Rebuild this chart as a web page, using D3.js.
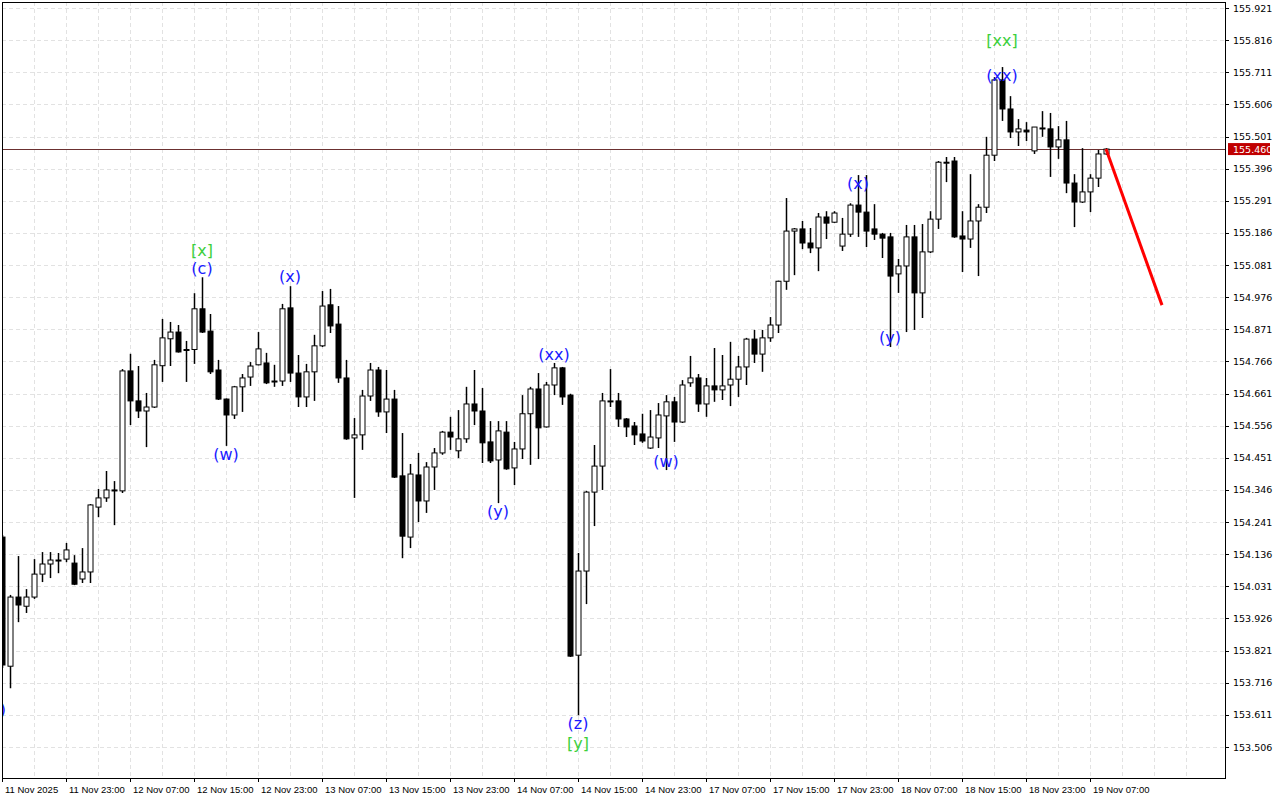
<!DOCTYPE html>
<html><head><meta charset="utf-8">
<script src="https://cdn.jsdelivr.net/npm/d3@7"></script>
<style>body{margin:0;background:#fff}svg{display:block}</style>
</head><body>
<svg id="c" width="1280" height="800"></svg>
<script>
// OHLC per hourly candle [open, high, low, close]
const candles = [
[154.192,154.199,153.764,153.774],[153.770,154.003,153.698,153.996],[153.996,154.130,153.914,153.970],[153.966,154.022,153.944,153.996],
[153.996,154.120,153.990,154.071],[154.071,154.143,154.045,154.104],[154.104,154.143,154.058,154.117],[154.116,154.140,154.074,154.117],
[154.120,154.173,154.110,154.150],[154.107,154.133,154.035,154.038],[154.055,154.156,154.042,154.078],[154.078,154.300,154.042,154.297],
[154.290,154.349,154.257,154.320],[154.320,154.408,154.307,154.346],[154.346,154.375,154.231,154.343],[154.343,154.741,154.336,154.735],
[154.735,154.791,154.558,154.637],[154.637,154.751,154.581,154.604],[154.604,154.663,154.486,154.617],[154.617,154.771,154.614,154.755],
[154.752,154.905,154.699,154.843],[154.840,154.895,154.751,154.862],[154.862,154.885,154.795,154.797],[154.803,154.833,154.699,154.805],
[154.805,154.989,154.758,154.938],[154.938,155.041,154.859,154.862],[154.865,154.921,154.725,154.732],[154.738,154.771,154.640,154.643],
[154.643,154.645,154.490,154.591],[154.591,154.686,154.578,154.683],[154.683,154.725,154.601,154.712],[154.715,154.764,154.686,154.751],
[154.755,154.862,154.753,154.807],[154.761,154.794,154.692,154.696],[154.700,154.755,154.683,154.702],[154.702,154.954,154.686,154.938],
[154.941,155.012,154.699,154.728],[154.728,154.787,154.617,154.650],[154.650,154.758,154.617,154.732],[154.732,154.853,154.637,154.817],
[154.817,154.996,154.813,154.947],[154.951,155.003,154.859,154.882],[154.888,154.947,154.696,154.712],[154.712,154.771,154.510,154.513],
[154.516,154.581,154.320,154.526],[154.526,154.673,154.477,154.653],[154.653,154.761,154.637,154.738],[154.738,154.748,154.585,154.601],
[154.601,154.738,154.532,154.643],[154.643,154.673,154.385,154.388],[154.392,154.532,154.123,154.195],[154.192,154.431,154.156,154.398],
[154.395,154.467,154.241,154.310],[154.310,154.437,154.271,154.421],[154.421,154.483,154.346,154.467],[154.467,154.539,154.461,154.535],
[154.535,154.585,154.477,154.519],[154.474,154.607,154.450,154.513],[154.513,154.683,154.500,154.627],[154.627,154.738,154.558,154.604],
[154.604,154.679,154.434,154.500],[154.503,154.571,154.434,154.441],[154.444,154.571,154.303,154.539],[154.535,154.571,154.412,154.415],
[154.418,154.503,154.362,154.480],[154.480,154.656,154.447,154.595],[154.595,154.683,154.428,154.676],[154.676,154.728,154.447,154.549],
[154.552,154.699,154.550,154.689],[154.689,154.761,154.656,154.745],[154.745,154.748,154.624,154.650],[154.656,154.660,153.800,153.803],
[153.806,154.140,153.610,154.081],[154.081,154.343,153.973,154.339],[154.339,154.493,154.228,154.424],[154.424,154.663,154.346,154.637],
[154.635,154.741,154.617,154.637],[154.637,154.663,154.552,154.578],[154.578,154.581,154.519,154.552],[154.555,154.568,154.493,154.526],
[154.529,154.595,154.500,154.506],[154.483,154.607,154.480,154.519],[154.516,154.630,154.483,154.591],[154.588,154.656,154.411,154.634],
[154.634,154.650,154.503,154.568],[154.568,154.705,154.565,154.689],[154.696,154.784,154.683,154.712],[154.712,154.725,154.601,154.627],
[154.627,154.712,154.585,154.686],[154.686,154.810,154.634,154.673],[154.673,154.787,154.640,154.686],[154.689,154.830,154.620,154.708],
[154.708,154.784,154.650,154.748],[154.748,154.843,154.689,154.839],[154.839,154.869,154.761,154.790],[154.790,154.869,154.732,154.843],
[154.843,154.911,154.830,154.885],[154.885,155.030,154.859,155.028],[155.028,155.300,155.000,155.192],[155.192,155.202,155.048,155.199],
[155.199,155.225,155.133,155.153],[155.153,155.202,155.120,155.137],[155.137,155.251,155.061,155.238],[155.238,155.257,155.166,155.218],
[155.221,155.257,155.218,155.251],[155.143,155.235,155.127,155.182],[155.182,155.283,155.173,155.277],[155.277,155.375,155.173,155.254],
[155.254,155.375,155.140,155.192],[155.199,155.280,155.163,155.182],[155.182,155.186,155.104,155.169],[155.173,155.186,154.813,155.045],
[155.052,155.101,154.990,155.078],[155.078,155.212,154.862,155.173],[155.173,155.212,154.869,154.990],[154.990,155.215,154.908,155.124],
[155.124,155.257,155.120,155.231],[155.231,155.421,155.199,155.417],[155.415,155.434,155.352,155.417],[155.421,155.434,155.170,155.173],
[155.176,155.257,155.058,155.166],[155.166,155.378,155.137,155.225],[155.225,155.280,155.045,155.270],[155.270,155.500,155.251,155.440],
[155.440,155.695,155.421,155.686],[155.686,155.728,155.552,155.591],[155.591,155.633,155.496,155.516],[155.516,155.558,155.470,155.526],
[155.522,155.548,155.486,155.516],[155.454,155.532,155.444,155.532],[155.528,155.584,155.500,155.529],[155.526,155.578,155.369,155.467],
[155.467,155.535,155.428,155.490],[155.490,155.552,155.316,155.349],[155.349,155.378,155.205,155.287],[155.287,155.463,155.284,155.320],
[155.320,155.378,155.254,155.365],[155.365,155.457,155.336,155.444],[155.444,155.463,155.441,155.460]
];
const priceTicks = [155.921,155.816,155.711,155.606,155.501,155.396,155.291,155.186,155.081,154.976,154.871,154.766,154.661,154.556,154.451,154.346,154.241,154.136,154.031,153.926,153.821,153.716,153.611,153.506];
const timeLabels = ["11 Nov 2025","11 Nov 23:00","12 Nov 07:00","12 Nov 15:00","12 Nov 23:00","13 Nov 07:00","13 Nov 15:00","13 Nov 23:00","14 Nov 07:00","14 Nov 15:00","14 Nov 23:00","17 Nov 07:00","17 Nov 15:00","17 Nov 23:00","18 Nov 07:00","18 Nov 15:00","18 Nov 23:00","19 Nov 07:00"];
const lastPrice = 155.460;
const forecast = [[138,155.460],[145,154.950]];
const waveLabels = [
 {t:")",i:0.1,p:153.630,c:"blue"},
 {t:"[x]",i:25,p:155.130,c:"green"},{t:"(c)",i:25,p:155.071,c:"blue"},
 {t:"(w)",i:28,p:154.463,c:"blue"},{t:"(x)",i:36,p:155.042,c:"blue"},
 {t:"(xx)",i:69,p:154.790,c:"blue"},{t:"(y)",i:62,p:154.277,c:"blue"},
 {t:"(z)",i:72,p:153.584,c:"blue"},{t:"[y]",i:72,p:153.519,c:"green"},
 {t:"(w)",i:83,p:154.440,c:"blue"},{t:"(x)",i:107,p:155.346,c:"blue"},
 {t:"(y)",i:111,p:154.843,c:"blue"},
 {t:"[xx]",i:125,p:155.816,c:"green"},{t:"(xx)",i:125,p:155.699,c:"blue"}
];

const L=2,T=2,R=1225,B=778;
const svg=d3.select("#c");
const x=d3.scaleLinear().domain([0,152]).range([2,1218]);
const y=d3.scaleLinear().domain([153.506,155.921]).range([747,8]);
const font="DejaVu Sans, Tahoma, sans-serif";
const afont="Liberation Sans, Arial, sans-serif";

svg.append("defs").append("clipPath").attr("id","clip").append("rect").attr("x",L).attr("y",T).attr("width",R-L).attr("height",B-T);
const g=svg.append("g").attr("clip-path","url(#clip)");
const vgrid=d3.range(0,152,4);
g.selectAll(".vg").data(vgrid).join("line").attr("x1",d=>Math.round(x(d))+0.5).attr("x2",d=>Math.round(x(d))+0.5).attr("y1",T).attr("y2",B)
 .attr("stroke","#e2e2e2").attr("stroke-dasharray","4,3");
g.selectAll(".hg").data(priceTicks).join("line").attr("x1",L).attr("x2",R).attr("y1",d=>Math.round(y(d))+0.5).attr("y2",d=>Math.round(y(d))+0.5)
 .attr("stroke","#e2e2e2").attr("stroke-dasharray","4,3");
g.append("line").attr("x1",L).attr("x2",R).attr("y1",Math.round(y(lastPrice))+0.5).attr("y2",Math.round(y(lastPrice))+0.5).attr("stroke","#6b3030").attr("stroke-width",1);
const cg=g.selectAll(".cd").data(candles).join("g");
cg.append("line").attr("x1",(d,i)=>Math.round(x(i))+0.5).attr("x2",(d,i)=>Math.round(x(i))+0.5)
 .attr("y1",d=>y(d[1])).attr("y2",d=>y(d[2])).attr("stroke","#000").attr("stroke-width",1.5);
cg.append("rect").attr("x",(d,i)=>Math.round(x(i))-2).attr("width",5)
 .attr("y",d=>y(Math.max(d[0],d[3]))).attr("height",d=>Math.max(1,Math.abs(y(d[0])-y(d[3]))))
 .attr("fill",d=>d[3]>=d[0]?"#fff":"#000").attr("stroke","#000").attr("stroke-width",1);
g.append("line").attr("x1",x(forecast[0][0])).attr("y1",y(forecast[0][1])).attr("x2",x(forecast[1][0])).attr("y2",y(forecast[1][1]))
 .attr("stroke","#ff0000").attr("stroke-width",3);
g.selectAll(".wl").data(waveLabels).join("text").attr("x",d=>x(d.i)).attr("y",d=>y(d.p))
 .attr("text-anchor","middle").attr("dominant-baseline","central").attr("font-family",font).attr("font-size",16)
 .attr("fill",d=>d.c==="blue"?"#1a1aff":"#3ccf3c").text(d=>d.t);
svg.append("rect").attr("x",L+0.5).attr("y",T+0.5).attr("width",R-L).attr("height",B-T).attr("fill","none").attr("stroke","#000");
const ya=svg.append("g");
ya.selectAll("line").data(priceTicks).join("line").attr("x1",R).attr("x2",R+4).attr("y1",d=>Math.round(y(d))+0.5).attr("y2",d=>Math.round(y(d))+0.5).attr("stroke","#000");
ya.selectAll("text").data(priceTicks).join("text").attr("x",R+8).attr("y",d=>y(d)).attr("dominant-baseline","central")
 .attr("font-family",font).attr("font-size",9.5).attr("fill","#000").text(d=>d.toFixed(3));
svg.append("rect").attr("x",R+3).attr("y",y(lastPrice)-6).attr("width",42).attr("height",12).attr("fill","#c00000");
svg.append("text").attr("x",R+8).attr("y",y(lastPrice)).attr("dominant-baseline","central").attr("font-family",font).attr("font-size",9.5).attr("fill","#fff").text(lastPrice.toFixed(3));
const xa=svg.append("g");
timeLabels.forEach((t,k)=>{
 const xi=Math.round(x(k*8));
 xa.append("line").attr("x1",xi+0.5).attr("x2",xi+0.5).attr("y1",B).attr("y2",B+4).attr("stroke","#000");
 xa.append("text").attr("x",xi+3).attr("y",789).attr("dominant-baseline","central").attr("font-family",afont).attr("font-size",9.5).attr("fill","#000").text(t);
});
</script>
</body></html>
